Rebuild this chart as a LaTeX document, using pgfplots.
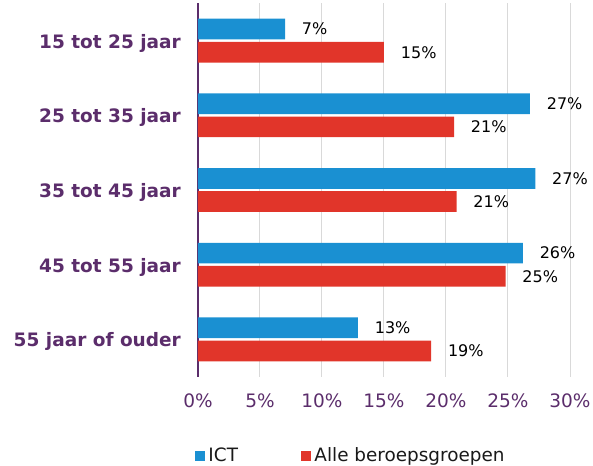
\documentclass[border=0pt]{standalone}
\usepackage{fontspec}
\setmainfont{DejaVu Sans}
\usepackage{pgfplots}
\pgfplotsset{compat=1.18}
\definecolor{ictblue}{HTML}{1A90D2}
\definecolor{allred}{HTML}{E1352A}
\definecolor{axpurple}{HTML}{5B2D6B}
\definecolor{gridgray}{HTML}{D9D9D9}
\begin{document}
\begin{tikzpicture}
\begin{axis}[
  at={(0,0)}, anchor=south west,
  scale only axis,
  width=372bp, height=373.4bp,
  xbar,
  xmin=0, xmax=30,
  ymin=-0.5, ymax=4.5,
  y dir=reverse,
  axis lines*=left,
  x axis line style={draw=none},
  y axis line style={draw=axpurple, line width=2bp},
  xtick={0,5,10,15,20,25,30},
  xticklabels={0\%,5\%,10\%,15\%,20\%,25\%,30\%},
  ytick={0,1,2,3,4},
  yticklabels={15 tot 25 jaar,25 tot 35 jaar,35 tot 45 jaar,45 tot 55 jaar,55 jaar of ouder},
  major tick length=0pt,
  xmajorgrids,
  major grid style={draw=gridgray, line width=1bp},
  xticklabel style={font=\fontsize{18.5bp}{22bp}\selectfont, text=axpurple, inner sep=0pt, anchor=north, yshift=-16.5bp},
  yticklabel style={font=\fontsize{18.5bp}{22bp}\selectfont\bfseries, text=axpurple, inner sep=0pt, anchor=east, xshift=-17bp, yshift=-2.5bp},
  bar width=0.277,
  clip=false,
  point meta=explicit symbolic,
  nodes near coords,
  nodes near coords style={font=\fontsize{16bp}{19bp}\selectfont, text=black, anchor=west, inner sep=0pt, xshift=16.7bp},
  legend columns=2,
  legend style={draw=none, fill=none, inner sep=0pt, outer sep=0pt,
    nodes={inner sep=0pt},
    font=\fontsize{18.4bp}{22bp}\selectfont,
    text=black!90,
    at={(axis description cs:-0.0081,-0.2113)}, anchor=west,
    /tikz/every odd column/.append style={column sep=3.5bp},
    /tikz/every even column/.append style={column sep=63bp}},
  legend image code/.code={\fill[#1] (0bp,-5bp) rectangle (10bp,5bp);},
]
\addplot[fill=ictblue, draw=none, bar shift=-0.155] coordinates {
  (7.02,0) [7\%]
  (26.77,1) [27\%]
  (27.2,2) [27\%]
  (26.2,3) [26\%]
  (12.9,4) [13\%]
};
\addlegendentry{ICT}
\addplot[fill=allred, draw=none, bar shift=0.155] coordinates {
  (15.0,0) [15\%]
  (20.65,1) [21\%]
  (20.85,2) [21\%]
  (24.8,3) [25\%]
  (18.8,4) [19\%]
};
\addlegendentry{Alle beroepsgroepen}
\end{axis}
\pgfresetboundingbox
\useasboundingbox (-198bp,-89.3bp) rectangle (395bp,376.7bp);
\end{tikzpicture}
\end{document}
